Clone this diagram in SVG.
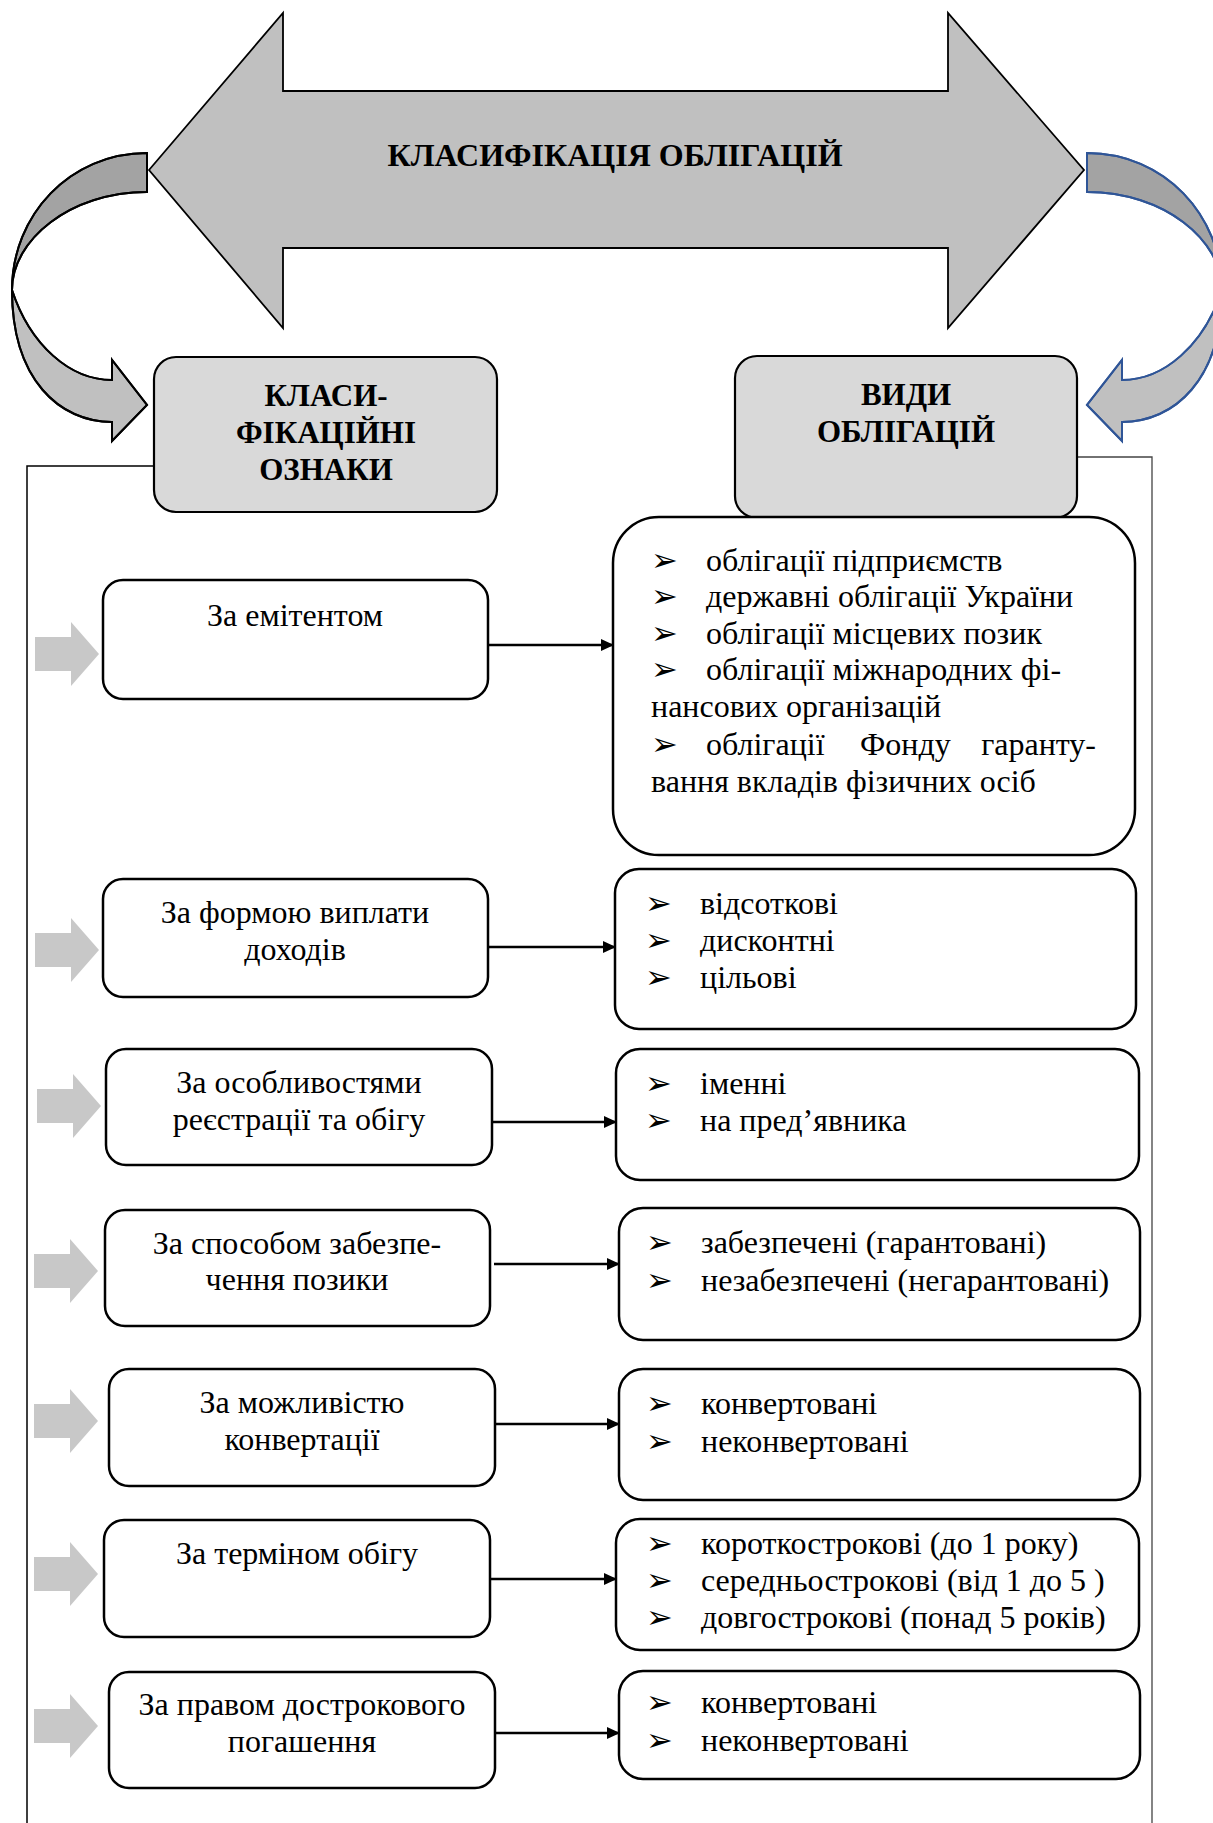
<svg xmlns="http://www.w3.org/2000/svg" width="1213" height="1823" viewBox="0 0 1213 1823">
  <style>
    .txt { font-family: "Liberation Serif", "Times New Roman", serif; font-size: 32px; fill: #000; }
    .mid { text-anchor: middle; }
    .bold { font-weight: bold; font-size: 31px; }
    .bul { font-family: "DejaVu Sans", sans-serif; font-size: 32px; fill: #000; }
    .crit { fill: #fff; stroke: #000; stroke-width: 2.5; }
    .kind { fill: #fff; stroke: #000; stroke-width: 2.5; }
    .head { fill: #d9d9d9; stroke: #000; stroke-width: 2.2; }
    .feed { fill: #c8c8c8; stroke: none; }
    .conn { stroke: #000; stroke-width: 2.6; fill: none; marker-end: url(#tip); }
  </style>
  <defs>
    <marker id="tip" markerWidth="13" markerHeight="12" refX="12" refY="6" orient="auto" markerUnits="userSpaceOnUse">
      <path d="M0,0 L13,6 L0,12 Z" fill="#000"/>
    </marker>
    <!-- block arrow feeding each criterion box -->
    <polygon id="feedArrow" points="0,-17 36,-17 36,-32 64,0 36,32 36,17 0,17"/>
    <!-- twisted curved arrow: back band, front band and head -->
    <g id="curl">
      <path d="M147,153 C70,153 12,215 12,290 C12,240 70,192 147,192 Z" fill="#a3a3a3"/>
      <path d="M12,290 C30,345 70,380 112,380 L112,360 L147,405 L112,441 L112,422 C60,422 12,380 12,290 Z" fill="#c0c0c0"/>
    </g>
  </defs>

  <rect width="1213" height="1823" fill="#fff"/>

  <!-- frame lines -->
  <g id="frame" fill="none">
    <polyline points="154,466 27,466 27,1823" stroke="#000" stroke-width="1.5"/>
    <polyline points="1077,457 1152,457 1152,1823" stroke="#444" stroke-width="1.3"/>
  </g>

  <!-- title double arrow -->
  <g id="title">
    <polygon points="149,170 283,13 283,91 948,91 948,13 1084,170 948,328 948,248 283,248 283,328" fill="#c0c0c0" stroke="#000" stroke-width="1.8" stroke-linejoin="miter"/>
    <text class="txt bold mid" x="615" y="166" style="font-size:32px">КЛАСИФІКАЦІЯ ОБЛІГАЦІЙ</text>
  </g>

  <!-- curved arrows to the column headers -->
  <g id="curl-left" stroke="#000" stroke-width="2">
    <use href="#curl"/>
    <path d="M147,153 C70,153 12,215 12,290 C12,380 60,422 112,422 L112,441 L147,405 L112,360 L112,380 C70,380 30,345 12,290 C12,240 70,192 147,192 Z" fill="none"/>
  </g>
  <g id="curl-right" transform="translate(1234,0) scale(-1,1)" stroke="#2f5597" stroke-width="2">
    <use href="#curl"/>
    <path d="M147,153 C70,153 12,215 12,290 C12,380 60,422 112,422 L112,441 L147,405 L112,360 L112,380 C70,380 30,345 12,290 C12,240 70,192 147,192 Z" fill="none"/>
  </g>

  <!-- column headers -->
  <g id="hdr-criteria">
    <rect class="head" x="154" y="357" width="343" height="155" rx="22"/>
    <text class="txt bold mid" x="326" y="406">КЛАСИ-</text>
    <text class="txt bold mid" x="326" y="443">ФІКАЦІЙНІ</text>
    <text class="txt bold mid" x="326" y="480">ОЗНАКИ</text>
  </g>
  <g id="hdr-kinds">
    <rect class="head" x="735" y="356" width="342" height="162" rx="22"/>
    <text class="txt bold mid" x="906" y="405">ВИДИ</text>
    <text class="txt bold mid" x="906" y="442">ОБЛІГАЦІЙ</text>
  </g>

  <!-- feed arrows -->
  <g id="feeds" class="feed">
    <use href="#feedArrow" x="35" y="654"/>
    <use href="#feedArrow" x="35" y="950"/>
    <use href="#feedArrow" x="37" y="1106"/>
    <use href="#feedArrow" x="34" y="1271"/>
    <use href="#feedArrow" x="34" y="1421"/>
    <use href="#feedArrow" x="34" y="1574"/>
    <use href="#feedArrow" x="34" y="1726"/>
  </g>

  <!-- criteria boxes -->
  <g id="c1">
    <rect class="crit" x="103" y="580" width="385" height="119" rx="20"/>
    <text class="txt mid" x="295" y="626">За емітентом</text>
  </g>
  <g id="c2">
    <rect class="crit" x="103" y="879" width="385" height="118" rx="20"/>
    <text class="txt mid" x="295" y="923">За формою виплати</text>
    <text class="txt mid" x="295" y="960">доходів</text>
  </g>
  <g id="c3">
    <rect class="crit" x="106" y="1049" width="386" height="116" rx="20"/>
    <text class="txt mid" x="299" y="1093">За особливостями</text>
    <text class="txt mid" x="299" y="1130">реєстрації та обігу</text>
  </g>
  <g id="c4">
    <rect class="crit" x="105" y="1210" width="385" height="116" rx="20"/>
    <text class="txt mid" x="297" y="1254">За способом забезпе-</text>
    <text class="txt mid" x="297" y="1290">чення позики</text>
  </g>
  <g id="c5">
    <rect class="crit" x="109" y="1369" width="386" height="117" rx="20"/>
    <text class="txt mid" x="302" y="1413">За можливістю</text>
    <text class="txt mid" x="302" y="1450">конвертації</text>
  </g>
  <g id="c6">
    <rect class="crit" x="104" y="1520" width="386" height="117" rx="20"/>
    <text class="txt mid" x="297" y="1564">За терміном обігу</text>
  </g>
  <g id="c7">
    <rect class="crit" x="109" y="1672" width="386" height="116" rx="20"/>
    <text class="txt mid" x="302" y="1715">За правом дострокового</text>
    <text class="txt mid" x="302" y="1752">погашення</text>
  </g>

  <!-- connectors -->
  <g id="connectors">
    <line class="conn" x1="488" y1="645" x2="613" y2="645"/>
    <line class="conn" x1="488" y1="947" x2="615" y2="947"/>
    <line class="conn" x1="492" y1="1122" x2="616" y2="1122"/>
    <line class="conn" x1="494" y1="1264" x2="619" y2="1264"/>
    <line class="conn" x1="495" y1="1424" x2="619" y2="1424"/>
    <line class="conn" x1="490" y1="1579" x2="616" y2="1579"/>
    <line class="conn" x1="495" y1="1733" x2="619" y2="1733"/>
  </g>

  <!-- kinds boxes -->
  <g id="k1">
    <rect class="kind" x="613" y="517" width="522" height="338" rx="46"/>
    <text class="bul" x="651" y="571">➢</text>
    <text class="txt" x="706" y="571">облігації підприємств</text>
    <text class="bul" x="651" y="607">➢</text>
    <text class="txt" x="706" y="607">державні облігації України</text>
    <text class="bul" x="651" y="644">➢</text>
    <text class="txt" x="706" y="644">облігації місцевих позик</text>
    <text class="bul" x="651" y="680">➢</text>
    <text class="txt" x="706" y="680">облігації міжнародних фі-</text>
    <text class="txt" x="651" y="717">нансових організацій</text>
    <text class="bul" x="651" y="755">➢</text>
    <text class="txt" x="706" y="755">облігації</text>
    <text class="txt" x="860" y="755">Фонду</text>
    <text class="txt" x="1096" y="755" text-anchor="end">гаранту-</text>
    <text class="txt" x="651" y="792">вання вкладів фізичних осіб</text>
  </g>
  <g id="k2">
    <rect class="kind" x="615" y="869" width="521" height="160" rx="24"/>
    <text class="bul" x="645" y="914">➢</text>
    <text class="txt" x="700" y="914">відсоткові</text>
    <text class="bul" x="645" y="951">➢</text>
    <text class="txt" x="700" y="951">дисконтні</text>
    <text class="bul" x="645" y="988">➢</text>
    <text class="txt" x="700" y="988">цільові</text>
  </g>
  <g id="k3">
    <rect class="kind" x="616" y="1049" width="523" height="131" rx="24"/>
    <text class="bul" x="645" y="1094">➢</text>
    <text class="txt" x="700" y="1094">іменні</text>
    <text class="bul" x="645" y="1131">➢</text>
    <text class="txt" x="700" y="1131">на пред’явника</text>
  </g>
  <g id="k4">
    <rect class="kind" x="619" y="1208" width="521" height="132" rx="24"/>
    <text class="bul" x="646" y="1253">➢</text>
    <text class="txt" x="701" y="1253">забезпечені (гарантовані)</text>
    <text class="bul" x="646" y="1291">➢</text>
    <text class="txt" x="701" y="1291">незабезпечені (негарантовані)</text>
  </g>
  <g id="k5">
    <rect class="kind" x="619" y="1369" width="521" height="131" rx="24"/>
    <text class="bul" x="646" y="1414">➢</text>
    <text class="txt" x="701" y="1414">конвертовані</text>
    <text class="bul" x="646" y="1452">➢</text>
    <text class="txt" x="701" y="1452">неконвертовані</text>
  </g>
  <g id="k6">
    <rect class="kind" x="616" y="1519" width="523" height="131" rx="24"/>
    <text class="bul" x="646" y="1554">➢</text>
    <text class="txt" x="701" y="1554">короткострокові (до 1 року)</text>
    <text class="bul" x="646" y="1591">➢</text>
    <text class="txt" x="701" y="1591">середньострокові (від 1 до 5 )</text>
    <text class="bul" x="646" y="1628">➢</text>
    <text class="txt" x="701" y="1628">довгострокові (понад 5 років)</text>
  </g>
  <g id="k7">
    <rect class="kind" x="619" y="1671" width="521" height="108" rx="24"/>
    <text class="bul" x="646" y="1713">➢</text>
    <text class="txt" x="701" y="1713">конвертовані</text>
    <text class="bul" x="646" y="1751">➢</text>
    <text class="txt" x="701" y="1751">неконвертовані</text>
  </g>
</svg>
